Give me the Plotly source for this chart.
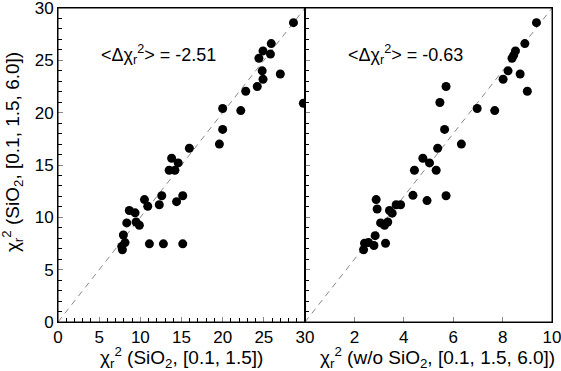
import plotly.graph_objects as go

# panel izquierdo: chi2 (SiO2, [0.1, 1.5]) vs chi2 (SiO2, [0.1, 1.5, 6.0])
x_izq = [28.6, 29.8, 25.9, 24.9, 24.4, 25.8, 24.8, 24.9, 27.0, 24.2,
         22.8, 22.2, 20.0, 20.0, 19.6, 15.95, 13.8, 13.5, 14.2, 14.6,
         10.5, 12.6, 15.15, 14.4, 12.3, 10.9, 8.66, 9.36, 8.35, 9.48,
         9.88, 7.94, 8.14, 7.74, 7.82, 11.1, 12.8, 15.15]
y_izq = [28.6, 20.9, 26.6, 25.9, 25.2, 25.6, 24.0, 23.2, 23.7, 22.5,
         22.05, 20.2, 20.4, 18.4, 17.0, 16.6, 15.65, 14.5, 14.5, 15.2,
         11.7, 12.06, 12.06, 11.5, 11.2, 11.06, 10.66, 10.43, 9.47, 9.56,
         9.25, 8.31, 7.59, 7.22, 6.9, 7.47, 7.47, 7.47]

# panel derecho: chi2 (w/o SiO2, [0.1, 1.5, 6.0])
x_der = [9.37, 8.9, 8.52, 8.45, 8.38, 8.22, 8.02, 8.71, 9.0, 7.68,
         6.97, 5.71, 5.46, 5.65, 5.37, 6.33, 4.77, 5.04, 4.43, 5.31,
         5.71, 4.37, 4.94, 2.88, 2.92, 3.42, 3.69, 3.87, 3.53, 3.06,
         3.35, 3.22, 2.84, 2.41, 2.57, 2.79, 2.37, 3.26]
y_der = [28.6, 26.6, 25.9, 25.5, 25.2, 24.0, 23.2, 23.7, 22.05, 20.2,
         20.4, 22.5, 20.97, 18.4, 16.6, 17.0, 15.65, 15.2, 14.5, 14.5,
         12.06, 12.1, 11.6, 11.7, 10.8, 10.66, 11.2, 11.2, 10.4, 9.47,
         9.56, 9.25, 8.25, 7.53, 7.6, 7.31, 6.9, 7.53]

# lineas de referencia
ref_x_izq = [0, 30]
ref_y_izq = [0, 30]
ref_x_der = [0, 10]
ref_y_der = [0, 30]

delta_izq = "-2.51"
delta_der = "-0.63"

titulo_y = "χ<sub>r</sub><sup>2</sup> (SiO<sub>2</sub>, [0.1, 1.5, 6.0])"
titulo_x_izq = "χ<sub>r</sub><sup>2</sup> (SiO<sub>2</sub>, [0.1, 1.5])"
titulo_x_der = "χ<sub>r</sub><sup>2</sup> (w/o SiO<sub>2</sub>, [0.1, 1.5, 6.0])"

fam = "Liberation Sans, Arial, sans-serif"
f_ticks = dict(family=fam, size=17, color="black")
f_titulo = dict(family=fam, size=19, color="black")
f_nota = dict(family=fam, size=18, color="black")

fig = go.Figure()

fig.add_trace(go.Scatter(x=ref_x_izq, y=ref_y_izq, mode="lines",
                         line=dict(color="#888", width=1, dash="6px,5px"),
                         xaxis="x", yaxis="y", showlegend=False))
fig.add_trace(go.Scatter(x=x_izq, y=y_izq, mode="markers",
                         marker=dict(color="black", size=9),
                         xaxis="x", yaxis="y", showlegend=False))
fig.add_trace(go.Scatter(x=ref_x_der, y=ref_y_der, mode="lines",
                         line=dict(color="#888", width=1, dash="6px,5px"),
                         xaxis="x2", yaxis="y2", showlegend=False))
fig.add_trace(go.Scatter(x=x_der, y=y_der, mode="markers",
                         marker=dict(color="black", size=9),
                         xaxis="x2", yaxis="y2", showlegend=False))

ejes = dict(showline=True, linecolor="black", linewidth=1, mirror=True,
            ticks="inside", ticklen=5, tickcolor="#888", showgrid=False,
            zeroline=False, tickfont=f_ticks, automargin=False,
            ticklabeloverflow="allow")
menor = dict(dtick=1, ticks="inside", ticklen=4, tickcolor="black")

dom_y = [0.132, 0.9784]

# marco de cada panel
marco = dict(type="rect", x0=0, x1=1, y0=0, y1=1, layer="above",
             line=dict(color="black", width=1), fillcolor="rgba(0,0,0,0)")

fig.update_layout(
    xaxis=dict(ejes, domain=[0.1034, 0.5437], range=[0, 30], tick0=0, dtick=5,
               minor=menor, anchor="y"),
    yaxis=dict(ejes, domain=dom_y, range=[0, 30], tick0=0, dtick=5,
               minor=menor, anchor="x"),
    xaxis2=dict(ejes, domain=[0.5437, 0.984], range=[0, 10],
                tickvals=[0, 2, 4, 6, 8, 10], ticktext=["", "2", "4", "6", "8", "10"],
                anchor="y2"),
    yaxis2=dict(ejes, domain=dom_y, range=[0, 30], dtick=5, showticklabels=False,
                minor=menor, anchor="x2"),
    shapes=[
        dict(marco, xref="x domain", yref="y domain"),
        dict(marco, xref="x2 domain", yref="y2 domain"),
    ],
    annotations=[
        dict(text="&lt;Δχ<sub>r</sub><sup>2</sup>&gt; = " + delta_izq,
             x=12.2, y=25.6, xref="x", yref="y", showarrow=False, font=f_nota),
        dict(text="&lt;Δχ<sub>r</sub><sup>2</sup>&gt; = " + delta_der,
             x=4.06, y=25.6, xref="x2", yref="y2", showarrow=False, font=f_nota),
        # titulos de los ejes
        dict(text=titulo_y, textangle=-90, x=0.0214, y=0.59, xref="paper",
             yref="paper", xanchor="center", yanchor="middle",
             showarrow=False, font=f_titulo),
        dict(text=titulo_x_izq, x=0.3244, y=0.0377, xref="paper",
             yref="paper", xanchor="center", yanchor="middle",
             showarrow=False, font=f_titulo),
        dict(text=titulo_x_der, x=0.779, y=0.0377, xref="paper",
             yref="paper", xanchor="center", yanchor="middle",
             showarrow=False, font=f_titulo),
    ],
    margin=dict(l=0, r=0, t=0, b=0),
    width=561, height=371,
    plot_bgcolor="white", paper_bgcolor="white",
    font=f_ticks,
)

fig.write_html("out.html", config={"displayModeBar": False},
               post_script="document.body.style.margin='0';")
